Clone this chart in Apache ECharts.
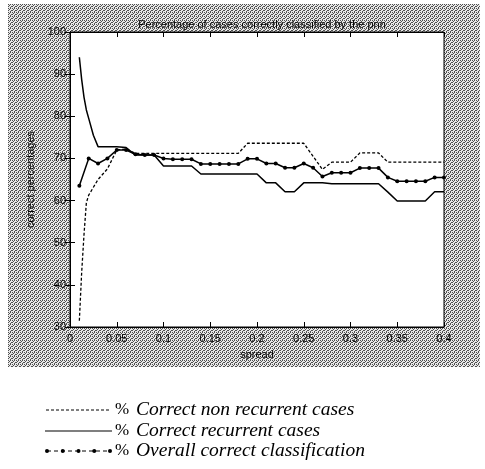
<!DOCTYPE html>
<html>
<head>
<meta charset="utf-8">
<script src="https://cdn.jsdelivr.net/npm/echarts@6/dist/echarts.min.js"></script>
<style>html,body{margin:0;padding:0;background:#fff;}#c{width:485px;height:469px;}</style>
</head>
<body>
<div id="c"></div>
<script>
// ---- data ----
const titleText = 'Percentage of cases correctly classified by the pnn';
const xName = 'spread';
const yName = 'correct percentages';
const seriesNames = ['Correct non recurrent cases', 'Correct recurrent cases', 'Overall correct classification'];

const nonRecX = [0.01,0.0125,0.015,0.0175,0.02,0.03,0.04,0.05,0.06,0.07,0.08,0.09,0.10,0.11,0.12,0.13,0.14,0.15,0.16,0.17,0.18,0.19,0.20,0.21,0.22,0.23,0.24,0.25,0.26,0.27,0.28,0.29,0.30,0.31,0.32,0.33,0.34,0.35,0.36,0.37,0.38,0.39,0.40];
const nonRecY = [31.5,43,52,59.5,61.3,65,67.5,72,72.2,71.2,71.2,71.2,71.2,71.2,71.2,71.2,71.2,71.2,71.2,71.2,71.2,73.6,73.6,73.6,73.6,73.6,73.6,73.6,70.5,67.4,69.1,69.1,69.1,71.3,71.3,71.3,69.1,69.1,69.1,69.1,69.1,69.1,69.1];

const recX = [0.01,0.0125,0.015,0.0175,0.02,0.025,0.03,0.04,0.05,0.06,0.07,0.08,0.09,0.10,0.11,0.12,0.13,0.14,0.15,0.16,0.17,0.18,0.19,0.20,0.21,0.22,0.23,0.24,0.25,0.26,0.27,0.28,0.29,0.30,0.31,0.32,0.33,0.34,0.35,0.36,0.37,0.38,0.39,0.40];
const recY = [94,88.7,84.5,81.5,79.5,75.5,72.8,72.8,72.8,72.6,70.8,70.8,70.8,68.2,68.2,68.2,68.2,66.3,66.3,66.3,66.3,66.3,66.3,66.3,64.2,64.2,62.1,62.1,64.2,64.2,64.2,64.0,64.0,64.0,64.0,64.0,64.0,62.0,59.9,59.9,59.9,59.9,62.1,62.1];

const overallX = [0.01,0.02,0.03,0.04,0.05,0.06,0.07,0.08,0.09,0.10,0.11,0.12,0.13,0.14,0.15,0.16,0.17,0.18,0.19,0.20,0.21,0.22,0.23,0.24,0.25,0.26,0.27,0.28,0.29,0.30,0.31,0.32,0.33,0.34,0.35,0.36,0.37,0.38,0.39,0.40];
const overallY = [63.5,70,68.8,70,72,72,71,70.8,70.8,70,69.8,69.8,69.8,68.7,68.7,68.7,68.7,68.7,69.9,69.9,68.8,68.8,67.8,67.8,68.8,67.8,65.7,66.6,66.6,66.6,67.7,67.7,67.7,65.5,64.6,64.6,64.6,64.6,65.5,65.5];

const xTickLabels = ['0','0.05','0.1','0.15','0.2','0.25','0.3','0.35','0.4'];
const yTickLabels = ['30','40','50','60','70','80','90','100'];

// ---- chart ----
function pairs(xs, ys){ return xs.map((x,i)=>[x, ys[i]]); }

function ditherCanvas(){
  const c = document.createElement('canvas');
  c.width = 4; c.height = 4;
  const g = c.getContext('2d');
  g.fillStyle = '#e8e8e8'; g.fillRect(0,0,4,4);
  g.fillStyle = '#505050';
  const dots = [[0,0],[2,0],[1,1],[3,2],[0,2],[2,3]];
  dots.forEach(d=>g.fillRect(d[0],d[1],1,1));
  return c;
}

const chart = echarts.init(document.getElementById('c'), null, {renderer:'canvas'});
const sansFont = 'Liberation Sans, Arial, sans-serif';
const serifFont = 'Liberation Serif, Times New Roman, serif';

const axisCommonX = {
  type:'value', min:0, max:0.4, interval:0.05,
  axisLine:{show:true, lineStyle:{color:'#000', width:1}},
  axisTick:{show:true, inside:true, length:5, lineStyle:{color:'#000'}},
  splitLine:{show:false}
};
const axisCommonY = {
  type:'value', min:30, max:100, interval:10,
  axisLine:{show:true, lineStyle:{color:'#000', width:1}},
  axisTick:{show:true, inside:true, length:5, lineStyle:{color:'#000'}},
  splitLine:{show:false}
};

const legendY = [410, 431, 451];
const legendGraphics = [];
legendGraphics.push({type:'line', shape:{x1:46,y1:legendY[0],x2:111,y2:legendY[0]}, style:{stroke:'#000', lineWidth:1, lineDash:[3,2]}});
legendGraphics.push({type:'line', shape:{x1:45,y1:legendY[1],x2:112,y2:legendY[1]}, style:{stroke:'#000', lineWidth:1.2}});
legendGraphics.push({type:'line', shape:{x1:47,y1:legendY[2],x2:110,y2:legendY[2]}, style:{stroke:'#000', lineWidth:1, lineDash:[4,3]}});
[47,62.75,78.5,94.25,110].forEach(x=>{
  legendGraphics.push({type:'circle', shape:{cx:x, cy:legendY[2], r:2}, style:{fill:'#000'}});
});
seriesNames.forEach((n,i)=>{
  legendGraphics.push({type:'text', x:115, y:legendY[i], style:{text:'%', font:'17px ' + serifFont, fill:'#000', verticalAlign:'middle'}});
  legendGraphics.push({type:'text', x:136, y:legendY[i], style:{text:n, font:'italic 19.5px ' + serifFont, fill:'#000', verticalAlign:'middle'}});
});

chart.setOption({
  animation:false,
  backgroundColor:'#fff',
  title:{
    text:titleText, left:257, top:14, textAlign:'center',
    textStyle:{fontSize:11, fontWeight:'normal', color:'#000', fontFamily:sansFont}
  },
  grid:{left:70, top:32, width:374, height:295, show:true, backgroundColor:'#fff', borderColor:'#000', borderWidth:1},
  xAxis:[
    Object.assign({}, axisCommonX, {
      position:'bottom',
      name:xName, nameLocation:'middle', nameGap:22,
      nameTextStyle:{fontSize:11, color:'#000', fontFamily:sansFont},
      axisLabel:{color:'#000', fontSize:11, fontFamily:sansFont, margin:6,
        formatter:(v)=>{ const i=Math.round(v/0.05); return xTickLabels[i]; }}
    }),
    Object.assign({}, axisCommonX, {position:'top', axisLabel:{show:false}})
  ],
  yAxis:[
    Object.assign({}, axisCommonY, {
      position:'left',
      name:yName, nameLocation:'middle', nameGap:26, nameRotate:90,
      nameTextStyle:{fontSize:11, color:'#000', fontFamily:sansFont},
      axisLabel:{color:'#000', fontSize:11, fontFamily:sansFont, margin:4,
        formatter:(v)=>{ const i=Math.round((v-30)/10); return yTickLabels[i]; }}
    }),
    Object.assign({}, axisCommonY, {position:'right', axisLabel:{show:false}})
  ],
  graphic:[
    {type:'rect', z:-10, silent:true, shape:{x:8, y:4, width:472, height:363},
     style:{fill:{image:ditherCanvas(), repeat:'repeat'}}},
    {type:'group', children:legendGraphics}
  ],
  series:[
    {name:seriesNames[0], type:'line', data:pairs(nonRecX, nonRecY), symbol:'none',
     lineStyle:{color:'#000', width:1.3, type:[3,2]}, z:3},
    {name:seriesNames[1], type:'line', data:pairs(recX, recY), symbol:'none',
     lineStyle:{color:'#000', width:1.5}, z:3},
    {name:seriesNames[2], type:'line', data:pairs(overallX, overallY), symbol:'circle', symbolSize:4,
     itemStyle:{color:'#000'}, lineStyle:{color:'#000', width:1.5}, z:4}
  ]
});
</script>
</body>
</html>
